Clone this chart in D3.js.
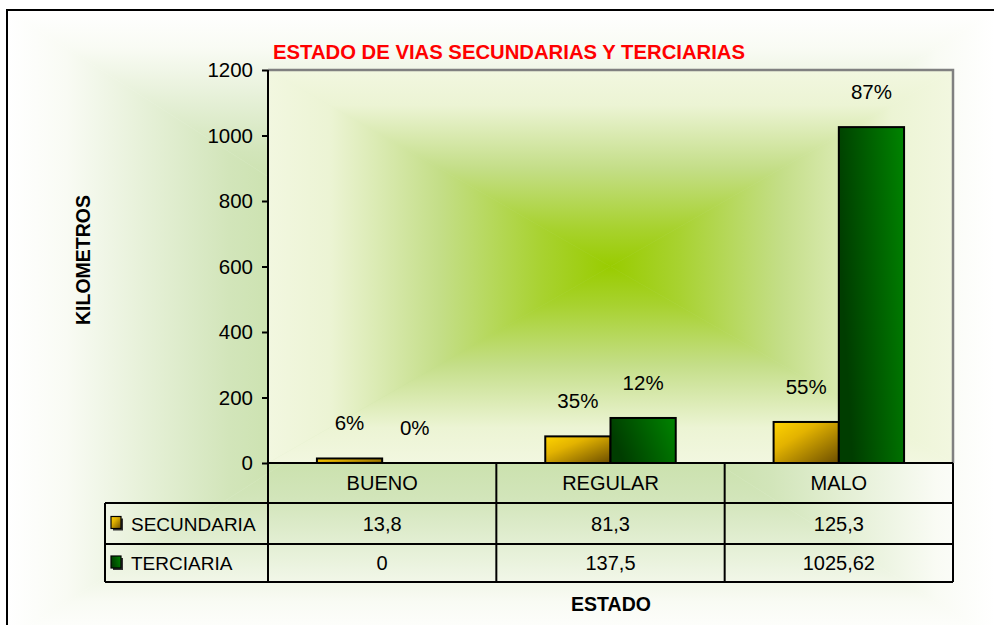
<!DOCTYPE html>
<html lang="es">
<head>
<meta charset="UTF-8">
<title>Estado de vias</title>
<script src="https://d3js.org/d3.v7.min.js"></script>
<style>
    body { margin: 0; padding: 0; background: #fff; }
    svg { display: block; font-family: "Liberation Sans", Arial, sans-serif; }
</style>
</head>
<body>
<svg id="chart" width="994" height="625"></svg>
<script>
    var categories = ["BUENO", "REGULAR", "MALO"];
    var seriesNames = ["SECUNDARIA", "TERCIARIA"];
    var secundaria = [13.8, 81.3, 125.3];
    var terciaria = [0, 137.5, 1025.62];
    var pctSecundaria = ["6%", "35%", "55%"];
    var pctTerciaria = ["0%", "12%", "87%"];
    var yTicks = [0, 200, 400, 600, 800, 1000, 1200];

    var svg = d3.select("#chart");
    var defs = svg.append("defs");

    var plot = { left: 268, right: 953, top: 70, bottom: 463 };
    var rowH = [40, 41, 38];

    // rectangular "from center" gradient made of 4 triangles
    function rectGradient(id, x0, y0, x1, y1, cx, cy, stops) {
        var g = svg.append("g");
        var sides = [
            { pts: [[x0, y0], [x1, y0], [cx, cy]], from: [cx, y0] },
            { pts: [[x1, y0], [x1, y1], [cx, cy]], from: [x1, cy] },
            { pts: [[x1, y1], [x0, y1], [cx, cy]], from: [cx, y1] },
            { pts: [[x0, y1], [x0, y0], [cx, cy]], from: [x0, cy] }
        ];
        sides.forEach(function (s, i) {
            var lg = defs.append("linearGradient")
                .attr("id", id + i)
                .attr("gradientUnits", "userSpaceOnUse")
                .attr("x1", s.from[0]).attr("y1", s.from[1])
                .attr("x2", cx).attr("y2", cy);
            stops.forEach(function (st) {
                lg.append("stop").attr("offset", st[0]).attr("stop-color", st[1]);
            });
            g.append("polygon")
                .attr("points", s.pts.map(function (p) { return p.join(","); }).join(" "))
                .attr("fill", "url(#" + id + i + ")")
                .attr("stroke", "url(#" + id + i + ")")
                .attr("stroke-width", 0.5);
        });
        return g;
    }

    // chart area background
    rectGradient("bgArea", 7, 10, 995, 640, 500, 325,
        [[0, "#ffffff"], [0.12, "#f9fbf4"], [0.45, "#d2e5ba"], [1, "#b0d480"]]);

    // plot area background
    rectGradient("bgPlot", plot.left, plot.top, plot.right, plot.bottom,
        (plot.left + plot.right) / 2, (plot.top + plot.bottom) / 2,
        [[0, "#f2f7e0"], [0.18, "#ecf4d4"], [0.5, "#c4de88"], [0.8, "#a8d230"], [1, "#99cc00"]]);

    // bar gradients
    var gSec = defs.append("linearGradient").attr("id", "gSec")
        .attr("x1", 0).attr("y1", 0).attr("x2", 1).attr("y2", 1);
    gSec.append("stop").attr("offset", 0).attr("stop-color", "#ffd400");
    gSec.append("stop").attr("offset", 0.35).attr("stop-color", "#e3b300");
    gSec.append("stop").attr("offset", 1).attr("stop-color", "#6b4d00");

    var gTer = defs.append("linearGradient").attr("id", "gTer")
        .attr("x1", 0).attr("y1", 0.3).attr("x2", 1).attr("y2", 0);
    gTer.append("stop").attr("offset", 0).attr("stop-color", "#003d00");
    gTer.append("stop").attr("offset", 1).attr("stop-color", "#008400");

    var fills = ["url(#gSec)", "url(#gTer)"];

    var x0 = d3.scaleBand().domain(categories).range([plot.left, plot.right]);
    var x1 = d3.scaleBand().domain(seriesNames).range([0, x0.bandwidth()])
        .paddingInner(0).paddingOuter(0.75);
    var y = d3.scaleLinear().domain([0, 1200]).range([plot.bottom, plot.top]);

    var seriesData = [secundaria, terciaria];
    var pctData = [pctSecundaria, pctTerciaria];

    var bars = [];
    seriesNames.forEach(function (s, si) {
        categories.forEach(function (c, ci) {
            bars.push({ s: s, si: si, c: c, v: seriesData[si][ci], pct: pctData[si][ci] });
        });
    });

    svg.append("g").selectAll("rect")
        .data(bars.filter(function (d) { return d.v > 0; }))
        .enter().append("rect")
        .attr("x", function (d) { return x0(d.c) + x1(d.s); })
        .attr("y", function (d) { return y(d.v); })
        .attr("width", x1.bandwidth())
        .attr("height", function (d) { return y(0) - y(d.v); })
        .attr("fill", function (d) { return fills[d.si]; })
        .attr("stroke", "#000")
        .attr("stroke-width", 2);

    // percentage labels
    svg.append("g").selectAll("text")
        .data(bars)
        .enter().append("text")
        .attr("x", function (d) { return x0(d.c) + x1(d.s) + x1.bandwidth() / 2; })
        .attr("y", function (d) { return y(d.v) - 28; })
        .attr("text-anchor", "middle")
        .attr("font-size", "20.5px")
        .attr("fill", "#000")
        .text(function (d) { return d.pct; });

    // plot border (top / right)
    svg.append("path")
        .attr("d", "M" + plot.left + "," + plot.top + "H" + plot.right + "V" + plot.bottom)
        .attr("fill", "none")
        .attr("stroke", "#808080")
        .attr("stroke-width", 2.5);

    // y axis
    var yAxis = svg.append("g")
        .attr("transform", "translate(" + plot.left + ",0)")
        .call(d3.axisLeft(y).tickValues(yTicks).tickSize(6).tickPadding(9).tickFormat(d3.format("d")));
    yAxis.select(".domain").remove();
    yAxis.selectAll(".tick line").attr("stroke", "#000").attr("stroke-width", 2);
    yAxis.selectAll(".tick text")
        .attr("font-size", "20.5px")
        .attr("font-family", "Liberation Sans, Arial, sans-serif")
        .attr("fill", "#000");

    // data table
    var tTop = plot.bottom;
    var r1 = tTop + rowH[0];
    var r2 = r1 + rowH[1];
    var r3 = r2 + rowH[2];
    var tLeft = 105;
    var lines = svg.append("g").attr("stroke", "#000").attr("stroke-width", 2);
    lines.append("line").attr("x1", plot.left).attr("x2", plot.left).attr("y1", plot.top).attr("y2", r3);
    lines.append("line").attr("x1", plot.left).attr("x2", plot.right).attr("y1", tTop).attr("y2", tTop);
    [r1, r2, r3].forEach(function (ry) {
        lines.append("line").attr("x1", tLeft).attr("x2", plot.right).attr("y1", ry).attr("y2", ry);
    });
    lines.append("line").attr("x1", tLeft).attr("x2", tLeft).attr("y1", r1).attr("y2", r3);
    categories.forEach(function (c) {
        var xr = x0(c) + x0.bandwidth();
        lines.append("line").attr("x1", xr).attr("x2", xr).attr("y1", tTop).attr("y2", r3);
    });

    // category header
    svg.append("g").selectAll("text")
        .data(categories)
        .enter().append("text")
        .attr("x", function (c) { return x0(c) + x0.bandwidth() / 2; })
        .attr("y", tTop + rowH[0] / 2 + 7)
        .attr("text-anchor", "middle")
        .attr("font-size", "20px")
        .text(function (c) { return c; });

    // rows
    var rowMid = [r1 + rowH[1] / 2, r2 + rowH[2] / 2];
    seriesNames.forEach(function (s, si) {
        var row = svg.append("g");
        row.append("rect")
            .attr("x", 113).attr("y", rowMid[si] - 5)
            .attr("width", 10).attr("height", 12)
            .attr("fill", "#333");
        row.append("rect")
            .attr("x", 111).attr("y", rowMid[si] - 7)
            .attr("width", 10).attr("height", 12)
            .attr("fill", fills[si])
            .attr("stroke", "#000").attr("stroke-width", 1.2);
        row.append("text")
            .attr("x", 131).attr("y", rowMid[si] + 7)
            .attr("font-size", "19px")
            .text(s);
        row.selectAll("text.val")
            .data(seriesData[si])
            .enter().append("text")
            .attr("class", "val")
            .attr("x", function (v, i) { return x0(categories[i]) + x0.bandwidth() / 2; })
            .attr("y", rowMid[si] + 7)
            .attr("text-anchor", "middle")
            .attr("font-size", "20px")
            .text(function (v) { return String(v).replace(".", ","); });
    });

    // titles
    svg.append("text")
        .attr("x", 273).attr("y", 59)
        .attr("font-size", "19.5px")
        .attr("font-weight", "bold")
        .attr("fill", "#ff0000")
        .attr("textLength", 472)
        .attr("lengthAdjust", "spacingAndGlyphs")
        .text("ESTADO DE VIAS SECUNDARIAS Y TERCIARIAS");

    svg.append("text")
        .attr("transform", "translate(90,260) rotate(-90)")
        .attr("text-anchor", "middle")
        .attr("font-size", "19.5px")
        .attr("font-weight", "bold")
        .text("KILOMETROS");

    svg.append("text")
        .attr("x", 611).attr("y", 611)
        .attr("text-anchor", "middle")
        .attr("font-size", "19.5px")
        .attr("font-weight", "bold")
        .text("ESTADO");

    // chart area frame
    svg.append("rect")
        .attr("x", 7).attr("y", 10)
        .attr("width", 1000).attr("height", 640)
        .attr("fill", "none")
        .attr("stroke", "#000")
        .attr("stroke-width", 2);
</script>
</body>
</html>
